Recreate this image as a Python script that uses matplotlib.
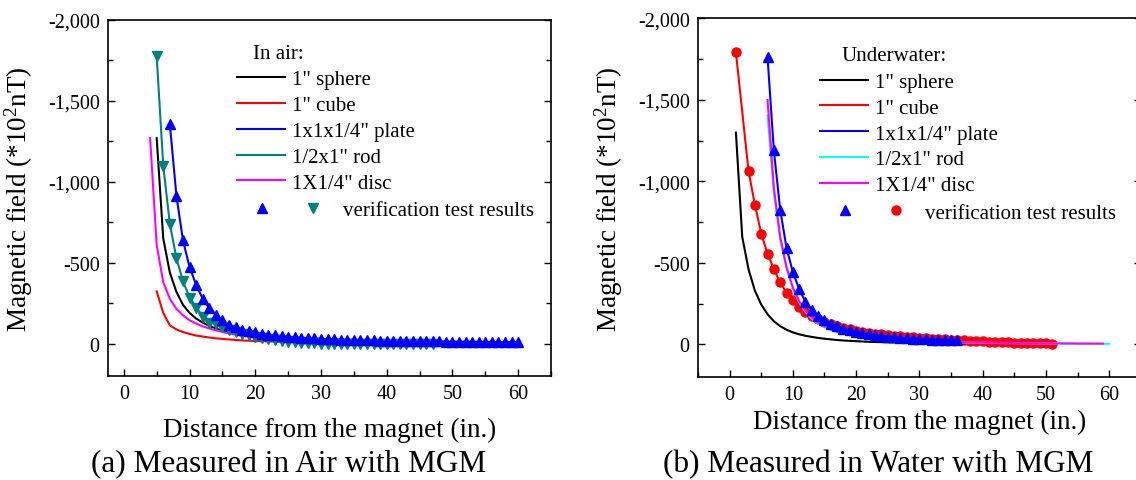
import numpy as np
import matplotlib
matplotlib.use('Agg')
import matplotlib.pyplot as plt
from matplotlib.ticker import MultipleLocator, FuncFormatter
from matplotlib.legend_handler import HandlerTuple

plt.rcParams['font.family'] = ['Liberation Serif', 'DejaVu Serif']
plt.rcParams['mathtext.fontset'] = 'custom'
plt.rcParams['mathtext.rm'] = 'Liberation Serif'
plt.rcParams['axes.unicode_minus'] = False

# ---- (a) in air ----
x_sphere_air = np.arange(5, 49)
sphere_air = [-1270, -650, -440, -320, -240, -190, -155, -130, -110, -94, -81, -71, -62, -55, -50,
              -45, -41, -37, -34, -31, -29, -27, -25, -23, -22, -20, -19, -18, -17, -16, -15,
              -14, -14, -13, -12, -12, -11, -11, -10, -10, -9, -9, -9, -8]
x_cube_air = np.arange(5, 49)
cube_air = [-323, -190, -113, -88, -72, -60, -50, -44, -38, -33, -29, -26, -23, -20, -18, -16,
            -15, -14, -13, -12, -11, -10, -9, -9, -8, -8, -7, -7, -6, -6, -6, -5, -5, -5, -5,
            -4, -4, -4, -4, -4, -3, -3, -3, -3]
x_plate_air = np.arange(7, 61)
plate_air = [-1358, -915, -638, -473, -364, -278, -220, -179, -144, -117, -100, -87, -77, -69,
             -62, -56, -51, -47, -43, -40, -37, -34, -32, -30, -28, -27, -25, -24, -23, -22,
             -21, -20, -19, -18, -18, -17, -16, -16, -15, -15, -14, -14, -13, -13, -12, -12,
             -12, -11, -11, -11, -10, -10, -10, -10]
x_rod_air = np.arange(5, 49)
rod_air = [-1776, -1100, -741, -529, -385, -288, -222, -175, -142, -117, -98, -84, -72, -63, -56,
           -50, -45, -41, -37, -34, -31, -29, -27, -25, -23, -22, -21, -20, -19, -18, -17, -16,
           -16, -15, -15, -14, -14, -13, -13, -13, -12, -12, -12, -11]
x_rod_air_test = np.arange(5, 48)
rod_air_test = [-1776, -1100, -741, -529, -385, -282, -220, -165, -128, -120, -100, -86, -73,
                -62, -52, -44, -36, -29, -23, -17, -12, -8, -5, -3, -1, 0, 1, 2, 2, 3, 3, 3, 4,
                4, 4, 4, 5, 5, 5, 5, 5, 5, 5]
x_disc_air = np.arange(4, 49)
disc_air = [-1270, -610, -380, -278, -215, -175, -145, -124, -107, -94, -82, -72, -63, -56, -50,
            -45, -40, -36, -33, -30, -27, -25, -23, -21, -19, -18, -17, -16, -15, -14, -13, -12,
            -11, -11, -10, -10, -9, -9, -8, -8, -8, -7, -7, -7, -6]

# ---- (b) underwater ----
x_sphere_water = np.arange(1, 38)
sphere_water = [-1300, -660, -460, -330, -245, -185, -142, -112, -90, -74, -62, -53, -46, -40,
                -35, -31, -27, -24, -22, -20, -18, -16, -15, -14, -13, -12, -11, -10, -9, -8,
                -8, -7, -7, -6, -6, -5, -5]
x_cube_water = [1] + list(range(3, 52))
cube_water = [-1793, -1062, -858, -680, -557, -461, -380, -318, -271, -231, -200, -175, -155,
              -138, -124, -112, -102, -93, -85, -78, -72, -66, -61, -57, -53, -49, -46, -43,
              -40, -37, -35, -33, -31, -29, -27, -25, -23, -21, -19, -17, -16, -14, -13, -11,
              -10, -9, -8, -7, -6, -5]
x_plate_water = np.arange(6, 37)
plate_water = [-1762, -1190, -827, -592, -445, -339, -261, -210, -176, -149, -128, -111, -97,
               -86, -77, -69, -63, -57, -52, -48, -44, -41, -38, -36, -34, -32, -30, -29, -28,
               -27, -26]
x_rod_water = np.arange(6, 61)
rod_water = [-1405, -930, -645, -465, -342, -258, -200, -158, -128, -106, -89, -76, -65, -57,
             -50, -44, -39, -35, -31, -28, -26, -24, -22, -20, -18, -17, -16, -15, -14, -13,
             -12, -11, -11, -10, -10, -9, -9, -8, -8, -8, -7, -7, -7, -6, -6, -6, -6, -5, -5,
             -5, -5, -5, -4, -4, -4]
x_disc_water = np.arange(6, 60)
disc_water = [-1500, -960, -660, -475, -350, -265, -207, -165, -134, -111, -93, -79, -68, -59,
              -52, -46, -41, -37, -33, -30, -27, -25, -23, -21, -19, -18, -17, -16, -15, -14,
              -13, -12, -12, -11, -11, -10, -10, -9, -9, -8, -8, -8, -7, -7, -7, -6, -6, -6,
              -6, -5, -5, -5, -5, -5]

labels = ['1" sphere', '1" cube', '1x1x1/4" plate', '1/2x1" rod', '1X1/4" disc']
TEAL = '#008080'

fig = plt.figure(figsize=(11.36, 4.81), dpi=100)
ax1 = fig.add_axes([0.0951, 0.2162, 0.3900, 0.7401])
ax2 = fig.add_axes([0.6144, 0.2141, 0.3898, 0.7454])


def style_axes(ax, xmin, label_x):
    ax.set_xlim(xmin, 65)
    ax.set_ylim(200, -2000)
    ax.xaxis.set_major_locator(MultipleLocator(10))
    ax.xaxis.set_minor_locator(MultipleLocator(5))
    ax.yaxis.set_major_locator(MultipleLocator(500))
    ax.yaxis.set_minor_locator(MultipleLocator(250))
    ax.yaxis.set_major_formatter(FuncFormatter(lambda v, p: f'{v:,.0f}' if v != 0 else '0'))
    ax.tick_params(which='both', direction='in', labelsize=14.5, width=1.0, right=True)
    ax.tick_params(which='major', length=5, pad=6)
    ax.tick_params(which='minor', length=3.5)
    for s in ax.spines.values():
        s.set_linewidth(1.2)
    ax.set_xlabel('Distance from the magnet (in.)', fontsize=19.5)
    ax.set_ylabel(r'Magnetic field (*$\mathregular{10^2}$nT)', fontsize=19.5)
    ax.yaxis.set_label_coords(label_x, 0.5)


# left panel
l1, = ax1.plot(x_sphere_air, sphere_air, color='black', lw=1.5)
l2, = ax1.plot(x_cube_air, cube_air, color='red', lw=1.5)
l3, = ax1.plot(x_plate_air, plate_air, color='blue', lw=1.5)
l4, = ax1.plot(x_rod_air, rod_air, color=TEAL, lw=1.5)
l5, = ax1.plot(x_disc_air, disc_air, color='magenta', lw=1.5)
m1, = ax1.plot(x_rod_air_test, rod_air_test, 'v', color=TEAL, ms=7, ls='none')
m2, = ax1.plot(x_plate_air, plate_air, '^', color='blue', ms=7, ls='none')
style_axes(ax1, -2.4, -0.165)
ax1.xaxis.set_label_coords(0.5, -0.115)

leg = ax1.legend([l1, l2, l3, l4, l5], labels, loc='upper left', bbox_to_anchor=(0.291, 0.86),
                 frameon=False, fontsize=15, handlelength=2.3, handletextpad=0.35,
                 labelspacing=0.3, borderpad=0, borderaxespad=0)
ax1.add_artist(leg)
ax1.legend([(m2, m1)], ['verification test results'], loc='upper left',
           bbox_to_anchor=(0.318, 0.493), frameon=False, fontsize=15, numpoints=1,
           handler_map={tuple: HandlerTuple(ndivide=None, pad=1.2)}, handlelength=3.7,
           handletextpad=0.8, borderpad=0, borderaxespad=0)
ax1.text(0.327, 0.905, 'In air:', transform=ax1.transAxes, fontsize=15, va='center')

# right panel
r2, = ax2.plot(x_cube_water, cube_water, color='red', lw=1.5)
c2, = ax2.plot(x_cube_water, cube_water, 'o', color='red', ms=6.5, ls='none')
r1, = ax2.plot(x_sphere_water, sphere_water, color='black', lw=1.5)
r4, = ax2.plot(x_rod_water, rod_water, color='cyan', lw=1.5)
r5, = ax2.plot(x_disc_water, disc_water, color='magenta', lw=1.5)
r3, = ax2.plot(x_plate_water, plate_water, color='blue', lw=1.5)
t2, = ax2.plot(x_plate_water, plate_water, '^', color='blue', ms=7, ls='none')
style_axes(ax2, -5, -0.165)
ax2.xaxis.set_label_coords(0.5, -0.09)

leg = ax2.legend([r1, r2, r3, r4, r5], labels, loc='upper left', bbox_to_anchor=(0.275, 0.85),
                 frameon=False, fontsize=15, handlelength=2.3, handletextpad=0.35,
                 labelspacing=0.3, borderpad=0, borderaxespad=0)
ax2.add_artist(leg)
ax2.legend([(t2, c2)], ['verification test results'], loc='upper left',
           bbox_to_anchor=(0.302, 0.485), frameon=False, fontsize=15, numpoints=1,
           handler_map={tuple: HandlerTuple(ndivide=None, pad=1.2)}, handlelength=3.7,
           handletextpad=0.8, borderpad=0, borderaxespad=0)
ax2.text(0.325, 0.897, 'Underwater:', transform=ax2.transAxes, fontsize=15, va='center')

fig.text(0.2544, 0.0333, '(a) Measured in Air with MGM', fontsize=22.5, ha='center', va='center')
fig.text(0.7733, 0.0333, '(b) Measured in Water with MGM', fontsize=22.5, ha='center', va='center')

fig.savefig('out.png', dpi=100)
